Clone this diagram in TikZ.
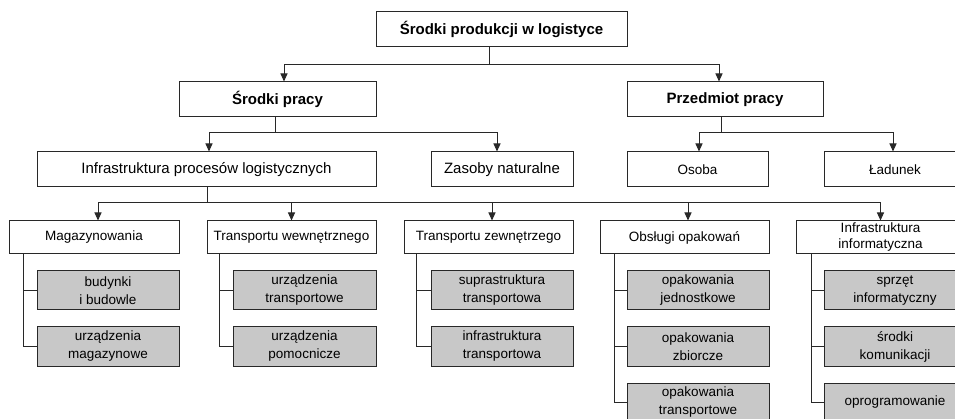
\documentclass[tikz,border=0pt]{standalone}
\usepackage{fontspec}
\setmainfont{Liberation Sans}
\usetikzlibrary{arrows.meta}
\definecolor{boxgrey}{RGB}{200,200,200}
\definecolor{linec}{RGB}{40,40,40}
\begin{document}
\begin{tikzpicture}[x=1pt,y=-1pt,
 box/.style={draw=linec, line width=1pt, fill=white, inner sep=0pt, align=center, text=black},
 hd/.style={box, minimum height=35pt, font=\fontsize{15}{18}\selectfont\bfseries},
 md/.style={box, minimum height=35pt, font=\fontsize{15}{18}\selectfont},
 sm/.style={box, minimum height=33pt, font=\fontsize{13.5}{17}\selectfont},
 gr/.style={box, fill=boxgrey, minimum height=39pt, minimum width=142pt, font=\fontsize{13.5}{18}\selectfont},
 arr/.style={draw=linec, line width=1pt, -{Triangle[length=8pt,width=7pt]}},
 ln/.style={draw=linec, line width=1pt}]
\useasboundingbox (0,0) rectangle (955,419);
\clip (0,0) rectangle (955,419);

% level 1-2
\node[hd, minimum width=251pt] (top) at (501.5,29.5) {Środki produkcji w logistyce};
\node[hd, minimum width=197pt] (sp) at (277.5,99.5) {Środki pracy};
\node[hd, minimum width=196pt] (pp) at (725,99.5) {Przedmiot pracy};
% level 3
\node[md, minimum width=339pt] (ipl) at (206.5,169.5) {Infrastruktura procesów logistycznych};
\node[md, minimum width=142pt] (zn) at (502,169.5) {Zasoby naturalne};
\node[sm, minimum height=35pt, minimum width=141pt] (os) at (697.5,169.5) {Osoba};
\node[sm, minimum height=35pt, minimum width=142pt] (la) at (895,169.5) {Ładunek};
% level 4
\node[sm, minimum width=170pt] (mag) at (94,237.5) {Magazynowania};
\node[sm, minimum width=169pt] (tw) at (291.5,237.5) {Transportu wewnętrznego};
\node[sm, minimum width=169pt] (tz) at (488.5,237.5) {Transportu zewnętrzego};
\node[sm, minimum width=169pt] (ob) at (684.5,237.5) {Obsługi opakowań};
\node[sm, minimum width=169pt, font=\fontsize{13.5}{16}\selectfont] (ii) at (880.5,237.5) {Infrastruktura\\informatyczna};
% grey leaves
\node[gr] (mag1) at (108,290.5) {budynki\\i budowle};
\node[gr] (mag2) at (108,346.5) {urządzenia\\magazynowe};
\node[gr, minimum width=143pt] (tw1) at (304.5,290.5) {urządzenia\\transportowe};
\node[gr, minimum width=143pt] (tw2) at (304.5,346.5) {urządzenia\\pomocnicze};
\node[gr] (tz1) at (502,290.5) {suprastruktura\\transportowa};
\node[gr] (tz2) at (502,346.5) {infrastruktura\\transportowa};
\node[gr] (ob1) at (698,290.5) {opakowania\\jednostkowe};
\node[gr] (ob2) at (698,346.5) {opakowania\\zbiorcze};
\node[gr] (ob3) at (698,402.5) {opakowania\\transportowe};
\node[gr] (ii1) at (895,290.5) {sprzęt\\informatyczny};
\node[gr] (ii2) at (895,346.5) {środki\\komunikacji};
\node[gr] (ii3) at (895,402.5) {oprogramowanie};

% connectors level 1 -> 2
\coordinate (j0) at (489,65);
\draw[ln] (top.south -| j0) -- (j0);
\draw[arr] (j0) -| ([xshift=6.5pt]sp.north);
\draw[arr] (j0) -| ([xshift=-6pt]pp.north);
% level 2 -> 3
\coordinate (j1) at (275,133);
\draw[ln] (sp.south -| j1) -- (j1);
\draw[arr] (j1) -| ([xshift=2.5pt]ipl.north);
\draw[arr] (j1) -| ([xshift=-5pt]zn.north);
\coordinate (j2) at (721,133);
\draw[ln] (pp.south -| j2) -- (j2);
\draw[arr] (j2) -| ([xshift=1.5pt]os.north);
\draw[arr] (j2) -| ([xshift=-2pt]la.north);
% level 3 -> 4
\coordinate (j3) at (207,203);
\draw[ln] (ipl.south -| j3) -- (j3);
\draw[arr] (j3) -| ([xshift=4pt]mag.north);
\draw[arr] (j3) -| (tw.north);
\draw[arr] (j3) -| ([xshift=3.5pt]tz.north);
\draw[arr] (j3) -| ([xshift=3.5pt]ob.north);
\draw[arr] (j3) -| (ii.north);
% leaves
\coordinate (v1) at (23,0);
\draw[ln] (mag.south -| v1) |- (mag2.west);
\draw[ln] (mag1.west) -- (mag1.west -| v1);
\coordinate (v2) at (219,0);
\draw[ln] (tw.south -| v2) |- (tw2.west);
\draw[ln] (tw1.west) -- (tw1.west -| v2);
\coordinate (v3) at (416,0);
\draw[ln] (tz.south -| v3) |- (tz2.west);
\draw[ln] (tz1.west) -- (tz1.west -| v3);
\coordinate (v4) at (614,0);
\draw[ln] (ob.south -| v4) |- (ob3.west);
\draw[ln] (ob1.west) -- (ob1.west -| v4);
\draw[ln] (ob2.west) -- (ob2.west -| v4);
\coordinate (v5) at (811,0);
\draw[ln] (ii.south -| v5) |- (ii3.west);
\draw[ln] (ii1.west) -- (ii1.west -| v5);
\draw[ln] (ii2.west) -- (ii2.west -| v5);
\end{tikzpicture}
\end{document}
